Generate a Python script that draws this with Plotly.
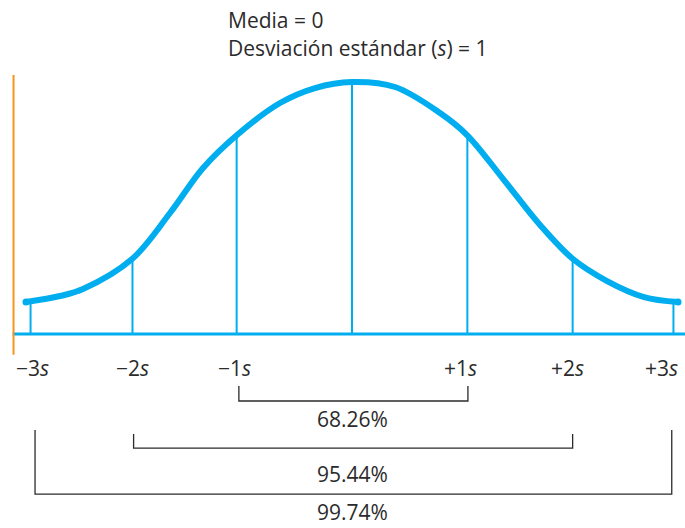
import plotly.graph_objects as go

# ---- data ----
curve_x = [-2.911, -2.607, -2.402, -1.964, -1.625, -1.330, -1.027, -0.643, -0.330, 0.0,
           0.384, 0.786, 1.027, 1.357, 1.679, 1.973, 2.277, 2.607, 2.911]
curve_y = [0.0508, 0.0603, 0.0714, 0.1190, 0.1921, 0.2635, 0.3159, 0.3667, 0.3905, 0.4000,
           0.3921, 0.3508, 0.3159, 0.2444, 0.1730, 0.1190, 0.0841, 0.0587, 0.0508]

sigma_labels = ["−3<i>s</i>", "−2<i>s</i>", "−1<i>s</i>", "", "+1<i>s</i>", "+2<i>s</i>", "+3<i>s</i>"]
sigma_pos = [-2.87, -1.96, -1.03, 0.0, 1.03, 1.97, 2.87]
sigma_height = [0.052, 0.119, 0.316, 0.400, 0.316, 0.119, 0.052]

pct_labels = ["68.26%", "95.44%", "99.74%"]
bracket_left = [-1.01, -1.95, -2.83]
bracket_right = [1.035, 1.97, 2.855]

title_lines = ["Media = 0", "Desviación estándar (<i>s</i>) = 1"]

# ---- styles / layout ----
BLUE = "#00AEEF"
ORANGE = "#F7941D"
DARK = "#2b2b2b"
FONT = "Open Sans"
FS = 21

fig = go.Figure()

# baseline
fig.add_trace(go.Scatter(x=[-3.03, 2.98], y=[0, 0], mode="lines",
                         line=dict(color=BLUE, width=3), hoverinfo="skip"))
# vertical lines
for xp, h in zip(sigma_pos, sigma_height):
    fig.add_trace(go.Scatter(x=[xp, xp], y=[0, h], mode="lines",
                             line=dict(color=BLUE, width=2), hoverinfo="skip"))
# curve
fig.add_trace(go.Scatter(x=curve_x, y=curve_y, mode="lines",
                         line=dict(color=BLUE, width=6, shape="spline", smoothing=1.0),
                         hoverinfo="skip"))
fig.add_trace(go.Scatter(x=[curve_x[0], curve_x[-1]], y=[curve_y[0], curve_y[-1]],
                         mode="markers", marker=dict(color=BLUE, size=7),
                         hoverinfo="skip"))
# orange axis line
fig.add_trace(go.Scatter(x=[-3.022, -3.022], y=[-0.033, 0.411], mode="lines",
                         line=dict(color=ORANGE, width=2), hoverinfo="skip"))

# brackets
bracket_top = [-0.0825, -0.1587, -0.1524]
bracket_bot = [-0.1063, -0.181, -0.254]
for l, r, t, b in zip(bracket_left, bracket_right, bracket_top, bracket_bot):
    fig.add_trace(go.Scatter(x=[l, l, r, r], y=[t, b, b, t], mode="lines",
                             line=dict(color=DARK, width=1.3), hoverinfo="skip"))

annotations = []
label_shift = [2, 0, -2, 0, -7, -5, -12]
for lab, xp, sh in zip(sigma_labels, sigma_pos, label_shift):
    if lab:
        annotations.append(dict(x=xp, y=-0.054, text=lab, showarrow=False,
                                xanchor="center", yanchor="middle", xshift=sh,
                                font=dict(family=FONT, size=FS, color=DARK)))
pct_pos = [(-0.135, "middle"), (-0.222, "middle"), (-0.3079, "bottom")]
for lab, (yy, ya) in zip(pct_labels, pct_pos):
    annotations.append(dict(x=0, y=yy, text=lab, showarrow=False,
                            xanchor="center", yanchor=ya,
                            font=dict(family=FONT, size=FS, color=DARK)))
for txt, yy in zip(title_lines, [0.498, 0.454]):
    annotations.append(dict(x=-1.125, y=yy, text=txt, showarrow=False,
                            xanchor="left", yanchor="middle",
                            font=dict(family=FONT, size=FS, color=DARK)))

fig.update_layout(
    width=685, height=528,
    margin=dict(l=0, r=0, t=0, b=0),
    paper_bgcolor="white", plot_bgcolor="white",
    showlegend=False,
    xaxis=dict(range=[-3.1429, 2.9732], visible=False, fixedrange=True),
    yaxis=dict(range=[-0.3079, 0.5302], visible=False, fixedrange=True),
    annotations=annotations,
)

fig.write_html("out.html", config={"displayModeBar": False},
               post_script="document.body.style.margin='0px';document.body.style.overflow='hidden';")
